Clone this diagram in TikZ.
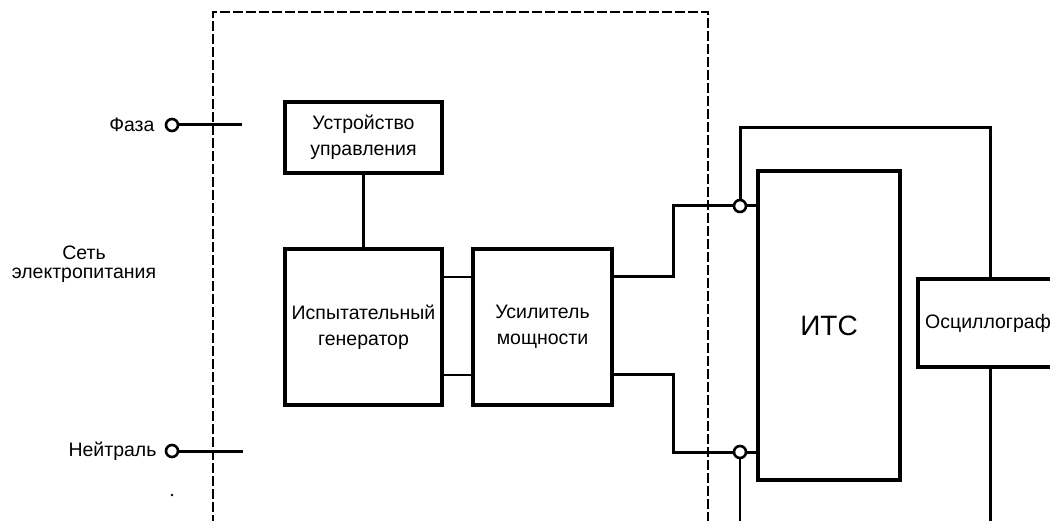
\documentclass[tikz,border=0pt]{standalone}
\usepackage{fontspec}
\setmainfont{Liberation Sans}
\begin{document}
\begin{tikzpicture}[x=1pt,y=-1pt,
  blk/.style={draw, line width=3.2pt, rectangle, inner sep=0pt, align=center,
    font=\fontsize{19.5}{26}\selectfont},
  wire/.style={line width=3pt},
  thinwire/.style={line width=2pt},
  bound/.style={line width=1.5pt, dash pattern=on 10pt off 3pt},
  term/.style={circle, draw, line width=2.6pt, fill=white, minimum size=12pt, inner sep=0pt},
  lbl/.style={font=\fontsize{19.5}{20}\selectfont, inner sep=0pt, align=center}]
\useasboundingbox (0,0) rectangle (1050,521);

% dashed boundary
\coordinate (bl) at (213,525);
\coordinate (tl) at (213,12);
\coordinate (tr) at (708,12);
\coordinate (br) at (708,525);
\draw[bound] (bl) -- (tl) -- (tr) -- (br);

% blocks
\node[blk, minimum width=157pt, minimum height=71pt] (ctrl) at (363.5,137.5) {Устройство\\управления};
\node[blk, minimum width=157pt, minimum height=156pt] (gen) at (363.5,327) {Испытательный\\генератор};
\node[blk, minimum width=139pt, minimum height=156pt] (amp) at (542.5,327) {Усилитель\\мощности};
\node[blk, minimum width=142pt, minimum height=309pt, font=\fontsize{28}{30}\selectfont] (its) at (829,325.5) {ИТС};
\node[blk, minimum width=140pt, minimum height=88pt, text width=130pt] (osc) at (988,323) {Осциллограф};

% mains terminals
\node[term] (fa) at (172,125) {};
\node[term] (ne) at (172,451) {};
\node[lbl, anchor=east] (faL) at (fa.west) [xshift=-10pt] {Фаза};
\node[lbl, anchor=east] (neL) at (ne.west) [xshift=-8pt] {Нейтраль};
\node[lbl, font=\fontsize{19.5}{19}\selectfont] (net) at (84,264) {Сеть\\электропитания};
\coordinate (faE) at (242,125);
\coordinate (neE) at (243,451);
\draw[wire] (fa) -- (faE);
\draw[wire] (ne) -- (neE);
\fill (172,495) circle (1.4pt);

% control -> generator
\draw[wire] (ctrl.south) -- (gen.north -| ctrl.south);

% generator -> amplifier
\draw[thinwire] (gen.east |- 0,277) -- (amp.west |- 0,277);
\draw[thinwire] (gen.east |- 0,375) -- (amp.west |- 0,375);

% amplifier -> ITS
\node[term] (c1) at (740,206) {};
\node[term] (c2) at (740,452) {};
\coordinate (k1) at (673,277);
\coordinate (k2) at (673,375);
\draw[wire] (amp.east |- k1) -- (k1) |- (c1);
\draw[wire] (amp.east |- k2) -- (k2) |- (c2);
\draw[wire] (c1) -- (its.west |- c1);
\draw[wire] (c2) -- (its.west |- c2);

% to oscilloscope
\coordinate (top) at (990,128);
\draw[wire] (c1) |- (top) -- (osc.north -| top);
\coordinate (oscB) at (990,525);
\draw[wire] (osc.south -| oscB) -- (oscB);
\coordinate (c2B) at (740,525);
\draw[thinwire] (c2) -- (c2B);
\end{tikzpicture}
\end{document}
